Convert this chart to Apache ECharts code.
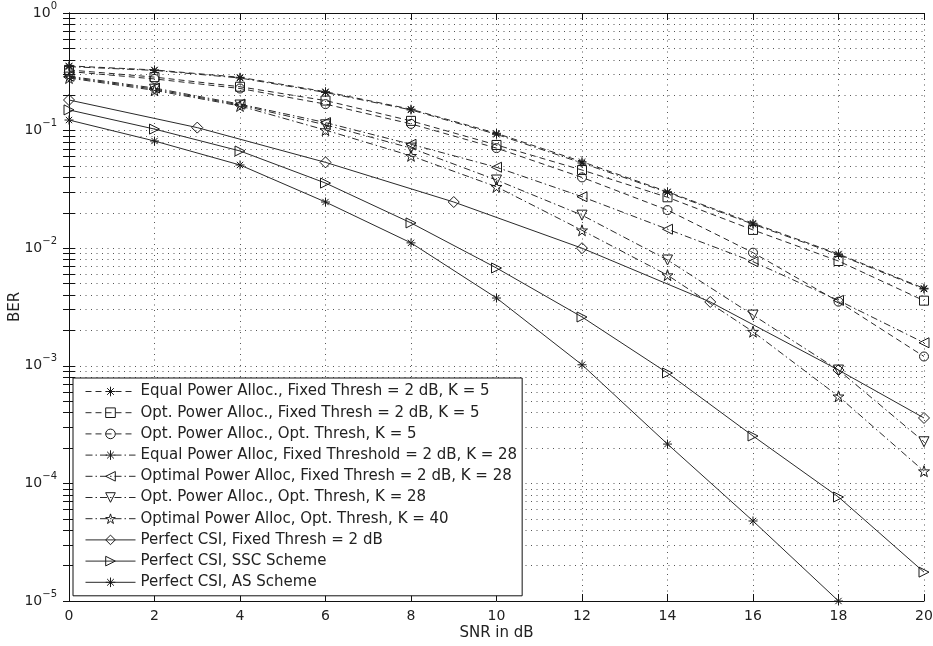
<!DOCTYPE html>
<html><head><meta charset="utf-8">
<script src="https://cdn.jsdelivr.net/npm/echarts@6/dist/echarts.min.js"></script>
<style>html,body{margin:0;padding:0;background:#fff}#c{width:933px;height:646px}</style>
</head><body><div id="c"></div>
<script>
// ---- data ----
const snr = [0, 2, 4, 6, 8, 10, 12, 14, 16, 18, 20];
const snrDiamond = [0, 3, 6, 9, 12, 15, 18, 20];
const xTicks = [0, 2, 4, 6, 8, 10, 12, 14, 16, 18, 20];
const yDecades = [1e-5, 1e-4, 1e-3, 1e-2, 1e-1, 1];
const minorMult = [2, 3, 4, 5, 6, 7, 8, 9];

const eqK5      = [0.355, 0.328, 0.284, 0.214, 0.152, 0.0948, 0.0544, 0.0302, 0.0163, 0.00893, 0.00456];
const optFixK5  = [0.328, 0.285, 0.236, 0.180, 0.121, 0.0755, 0.0462, 0.0271, 0.0143, 0.00778, 0.00358];
const optOptK5  = [0.318, 0.275, 0.228, 0.168, 0.114, 0.0710, 0.0400, 0.0211, 0.00916, 0.00351, 0.00120];
const eqK28     = [0.350, 0.325, 0.280, 0.211, 0.150, 0.0930, 0.0530, 0.0298, 0.0160, 0.00880, 0.00450];
const optFixK28 = [0.290, 0.230, 0.168, 0.117, 0.0765, 0.0488, 0.0274, 0.0145, 0.00768, 0.00360, 0.00157];
const optOptK28 = [0.285, 0.225, 0.165, 0.112, 0.0710, 0.0380, 0.0191, 0.00794, 0.00270, 0.00092, 0.000226];
const optOptK40 = [0.280, 0.220, 0.162, 0.101, 0.0610, 0.0333, 0.0142, 0.00590, 0.00195, 0.00055, 0.000127];
const csiFixed  = [0.182, 0.106, 0.0537, 0.0247, 0.0100, 0.00349, 0.00092, 0.00036];
const csiSSC    = [0.150, 0.103, 0.0671, 0.0358, 0.0164, 0.00679, 0.00260, 0.000869, 0.000253, 7.66e-5, 1.76e-5];
const csiAS     = [0.123, 0.0816, 0.0510, 0.0247, 0.0111, 0.00377, 0.00102, 0.000216, 4.79e-5, 1.0e-5];

const names = [
  'Equal Power Alloc., Fixed Thresh = 2 dB, K = 5',
  'Opt. Power Alloc., Fixed Thresh = 2 dB, K = 5',
  'Opt. Power Alloc., Opt. Thresh, K = 5',
  'Equal Power Alloc, Fixed Threshold = 2 dB, K = 28',
  'Optimal Power Alloc, Fixed Thresh = 2 dB, K = 28',
  'Opt. Power Alloc., Opt. Thresh, K = 28',
  'Optimal Power Alloc, Opt. Thresh, K = 40',
  'Perfect CSI, Fixed Thresh = 2 dB',
  'Perfect CSI, SSC Scheme',
  'Perfect CSI, AS Scheme'
];

// ---- styling ----
const FONT = 'DejaVu Sans';
const INK = '#222';
const DASH = [6, 4];
const DASHDOT = [7, 3, 1.5, 3];
const SOLID = 'solid';
const SYM = {
  ast: 'path://M0,-1L0,1M-1,0L1,0M-0.7,-0.7L0.7,0.7M-0.7,0.7L0.7,-0.7',
  left: 'path://M0,0.5L1,0L1,1Z',
  right: 'path://M1,0.5L0,0L0,1Z',
  down: 'path://M0,0L1,0L0.5,1Z',
  star: 'path://M0,-1L0.225,-0.309L0.951,-0.309L0.363,0.118L0.588,0.809L0,0.382L-0.588,0.809L-0.363,0.118L-0.951,-0.309L-0.225,-0.309Z'
};

const minorVals = [];
for (let k = -5; k < 0; k++) minorMult.forEach(m => minorVals.push(m * Math.pow(10, k)));
const allYTicks = yDecades.concat(minorVals).sort((a, b) => a - b);

function mk(name, xs, ys, type, symbol, size) {
  return {
    name, type: 'line',
    data: ys.map((v, i) => [xs[i], v]),
    symbol, symbolSize: size, showAllSymbol: true,
    lineStyle: { color: '#2a2a2a', width: 1, type },
    itemStyle: { color: 'rgba(255,255,255,0)', borderColor: '#1a1a1a', borderWidth: 1 },
    emphasis: { disabled: true },
    z: 3
  };
}

const series = [
  mk(names[0], snr, eqK5, DASH, SYM.ast, 9),
  mk(names[1], snr, optFixK5, DASH, 'rect', 9),
  mk(names[2], snr, optOptK5, DASH, 'circle', 9),
  mk(names[3], snr, eqK28, DASHDOT, SYM.ast, 9),
  mk(names[4], snr, optFixK28, DASHDOT, SYM.left, 10),
  mk(names[5], snr, optOptK28, DASHDOT, SYM.down, 10),
  mk(names[6], snr, optOptK40, DASHDOT, SYM.star, 11),
  mk(names[7], snrDiamond, csiFixed, SOLID, 'diamond', 11),
  mk(names[8], snr, csiSSC, SOLID, SYM.right, 10),
  mk(names[9], snr.slice(0, csiAS.length), csiAS, SOLID, SYM.ast, 9)
];

const gridDot = { show: true, lineStyle: { color: '#555', width: 1, type: [1, 4.5] } };

const chart = echarts.init(document.getElementById('c'), null, { renderer: 'canvas' });
chart.setOption({
  animation: false,
  backgroundColor: '#fff',
  grid: { left: 69, right: 9, top: 13, bottom: 45, containLabel: false, outerBoundsMode: 'none' },
  legend: {
    orient: 'vertical', left: 73, top: 378,
    data: names,
    backgroundColor: '#fff', borderColor: '#111', borderWidth: 1,
    padding: [6, 5, 6, 12],
    itemWidth: 50, itemHeight: 12, itemGap: 6.2,
    selectedMode: false,
    lineStyle: { width: 1 },
    itemStyle: { borderWidth: 1 },
    textStyle: { fontFamily: FONT, fontSize: 15, color: INK, lineHeight: 15 }
  },
  xAxis: [
    {
      type: 'value', min: 0, max: 20, interval: 2, position: 'bottom',
      axisLine: { lineStyle: { color: '#111', width: 1 } },
      axisTick: { inside: true, length: 7, lineStyle: { color: '#111' } },
      axisLabel: { fontFamily: FONT, fontSize: 14, color: INK, margin: 8, customValues: xTicks },
      splitLine: gridDot,
      name: 'SNR in dB', nameLocation: 'middle', nameGap: 25, nameMoveOverlap: false,
      nameTextStyle: { fontFamily: FONT, fontSize: 15, color: INK }
    },
    {
      type: 'value', min: 0, max: 20, interval: 2, position: 'top',
      axisLine: { lineStyle: { color: '#111', width: 1 } },
      axisTick: { inside: true, length: 7, lineStyle: { color: '#111' } },
      axisLabel: { show: false }, splitLine: { show: false }
    }
  ],
  yAxis: [
    {
      type: 'log', logBase: 10, min: 1e-5, max: 1, position: 'left',
      axisLine: { lineStyle: { color: '#111', width: 1 } },
      axisTick: { inside: true, length: 6, lineStyle: { color: '#111' }, customValues: allYTicks },
      axisLabel: {
        customValues: yDecades, margin: 12,
        formatter: v => { const e = Math.round(Math.log10(v)); return '{b|10}{s|' + (e === 0 ? '0' : '\u2212' + (-e)) + '}'; },
        rich: {
          b: { fontFamily: FONT, fontSize: 14, color: INK },
          s: { fontFamily: FONT, fontSize: 10, color: INK, padding: [0, 0, 14, 0] }
        }
      },
      splitLine: gridDot,
      name: 'BER', nameLocation: 'middle', nameGap: 46, nameRotate: 90, nameMoveOverlap: false,
      nameTextStyle: { fontFamily: FONT, fontSize: 15, color: INK }
    },
    {
      type: 'log', logBase: 10, min: 1e-5, max: 1, position: 'right',
      axisLine: { lineStyle: { color: '#111', width: 1 } },
      axisTick: { inside: true, length: 6, lineStyle: { color: '#111' }, customValues: allYTicks },
      axisLabel: { show: false }, splitLine: { show: false }
    }
  ],
  series
});
</script>
</body></html>
